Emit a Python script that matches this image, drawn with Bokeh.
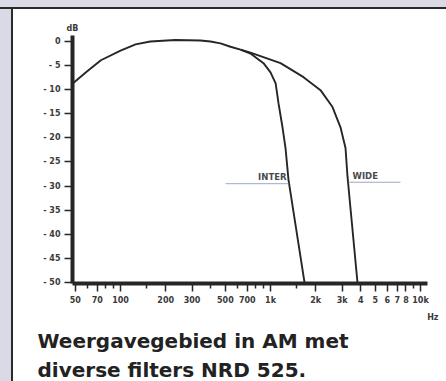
from bokeh.plotting import figure
from bokeh.models import (Range1d, FixedTicker, Label, Title,
                          ColumnDataSource, GlobalInlineStyleSheet)
from bokeh.embed import file_html
from bokeh.resources import INLINE

# ---- data ----
common_f = [48, 60, 74, 100, 126, 158, 232, 341, 398, 464, 541, 631]
common_db = [-8.7, -6.2, -3.9, -1.9, -0.6, 0.0, 0.3, 0.2, 0.0, -0.4, -1.1, -1.7]

inter_f = [631, 735, 898, 1000, 1082, 1130, 1202, 1259, 1318, 1686]
inter_db = [-1.7, -2.5, -4.5, -6.4, -8.7, -12.8, -17.8, -22.1, -28.7, -50.0]

wide_f = [631, 735, 1166, 1660, 2154, 2590, 2928, 3162, 3262, 3420, 3800]
wide_db = [-1.7, -2.3, -4.5, -7.4, -10.1, -13.6, -17.8, -22.1, -28.1, -34.9, -50.0]

y_ticks = [0, -5, -10, -15, -20, -25, -30, -35, -40, -45, -50]
y_labels = ["0", "- 5", "- 10", "- 15", "- 20", "- 25", "- 30", "- 35", "- 40", "- 45", "- 50"]

x_major = [50, 70, 100, 200, 300, 500, 700, 1000, 2000, 3000, 4000, 5000,
           6000, 7000, 8000, 10000]
x_labels = ["50", "70", "100", "200", "300", "500", "700", "1k", "2k", "3k", "4",
            "5", "6", "7", "8", "10k"]
x_minor = [60, 80, 90, 150, 400, 600, 800, 900, 1500, 9000]

title_lines = ["Weergavegebied in AM met", "diverse filters NRD 525."]
inter_label = ("INTER", 501, 1318, -29.5)
wide_label = ("WIDE", 3311, 7356, -29.2)

INK = "#262626"
FONT = "DejaVu Sans"
PAGE = "#d9dae6"

p = figure(width=433, height=372, x_axis_type="log",
           x_range=Range1d(47.86, 14900), y_range=Range1d(-50.2, 1.65),
           output_backend="svg", toolbar_location=None,
           min_border_left=59, min_border_right=0, min_border_top=24,
           min_border_bottom=97)
p.margin = (9, 0, 0, 13)
p.background_fill_color = "white"
p.border_fill_color = "white"
p.outline_line_color = None
p.xgrid.visible = False
p.ygrid.visible = False

p.stylesheets = [GlobalInlineStyleSheet(css=(
    "html, body { background:"
    " linear-gradient(to bottom, %s 0px, %s 7px, #2a2a2a 7px, #2a2a2a 9px, transparent 9px),"
    " linear-gradient(to right, %s 0px, %s 11px, #2a2a2a 11px, #2a2a2a 13px, #ffffff 13px); }"
    % (PAGE, PAGE, PAGE, PAGE)))]

# axes
xa = p.xaxis[0]
xa.ticker = FixedTicker(ticks=x_major, minor_ticks=x_minor)
xa.major_label_overrides = {t: l for t, l in zip(x_major, x_labels)}
xa.bounds = (47.86, 11140)
xa.axis_line_width = 4
xa.axis_line_color = INK
xa.major_tick_in = 0
xa.major_tick_out = 8
xa.minor_tick_in = 0
xa.minor_tick_out = 5
xa.major_tick_line_width = 1.5
xa.minor_tick_line_width = 1.5
xa.major_tick_line_color = INK
xa.minor_tick_line_color = INK
xa.major_label_standoff = 4
xa.major_label_text_font = FONT
xa.major_label_text_font_style = "bold"
xa.major_label_text_font_size = "8px"
xa.major_label_text_color = "#3a3a3a"

ya = p.yaxis[0]
ya.ticker = FixedTicker(ticks=y_ticks, minor_ticks=[])
ya.major_label_overrides = {t: l for t, l in zip(y_ticks, y_labels)}
ya.bounds = (-50.2, 1.24)
ya.axis_line_width = 4
ya.axis_line_color = INK
ya.major_tick_in = 0
ya.major_tick_out = 8
ya.major_tick_line_width = 1.5
ya.major_tick_line_color = INK
ya.minor_tick_line_color = None
ya.major_label_standoff = 4
ya.major_label_text_font = FONT
ya.major_label_text_font_style = "bold"
ya.major_label_text_font_size = "8px"
ya.major_label_text_color = "#3a3a3a"

# curves
p.line(common_f, common_db, line_width=1.9, line_color=INK)
p.line(inter_f, inter_db, line_width=1.9, line_color=INK)
p.line(wide_f, wide_db, line_width=1.9, line_color=INK)

# INTER / WIDE markers
seg = ColumnDataSource(dict(x0=[inter_label[1], wide_label[1]],
                            x1=[inter_label[2], wide_label[2]],
                            y=[inter_label[3], wide_label[3]]))
p.segment(x0="x0", y0="y", x1="x1", y1="y", source=seg,
          line_color="#9aa8c8", line_width=1)
p.add_layout(Label(x=1279, y=inter_label[3] + 0.4, text=inter_label[0],
                   text_align="right", text_baseline="bottom",
                   text_font=FONT, text_font_size="8.5px",
                   text_font_style="bold", text_color="#4a4a4a"))
p.add_layout(Label(x=3523, y=wide_label[3] + 0.3, text=wide_label[0],
                   text_align="left", text_baseline="bottom",
                   text_font=FONT, text_font_size="8.5px",
                   text_font_style="bold", text_color="#4a4a4a"))

# unit labels as titles in the borders
p.add_layout(Title(text="dB", align="left", offset=-6, standoff=2,
                   text_font=FONT, text_font_size="8px", text_font_style="bold",
                   text_color="#3a3a3a"), "above")
p.add_layout(Title(text="Hz", align="right", offset=8, standoff=6,
                   text_font=FONT, text_font_size="8px", text_font_style="bold",
                   text_color="#3a3a3a"), "below")

# caption
for line, so in zip(title_lines, [5, 0]):
    p.add_layout(Title(text=line, align="left", offset=-35, standoff=so,
                       text_font=FONT, text_font_size="20px", text_font_style="bold",
                       text_color="#222222"), "below")

open("out.html", "w").write(file_html(p, INLINE))
